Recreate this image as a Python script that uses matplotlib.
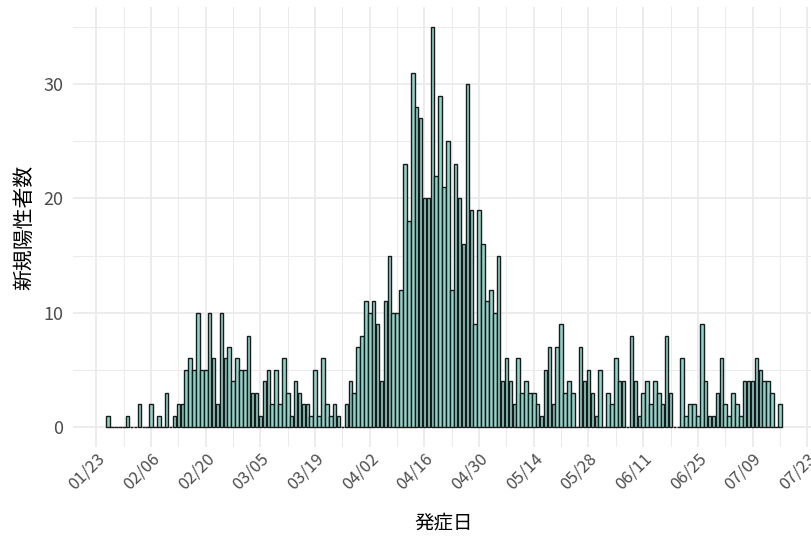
import matplotlib
matplotlib.use("Agg")
import matplotlib.pyplot as plt
import matplotlib.dates as mdates
import pandas as pd

plt.rcParams["font.family"] = ["Noto Sans CJK JP", "DejaVu Sans"]

# 発症日ごとの新規陽性者数 (2020-01-26 から 1 日ずつ)
AXIS_START = "2020-01-23"
DATA_START = "2020-01-26"
counts = [
    1, 0, 0, 0, 0, 1, 0, 0, 2, 0,          # 01/26 -
    0, 2, 0, 1, 0, 3, 0, 1, 2, 2,          # 02/05 -
    5, 6, 5, 10, 5, 5, 10, 6, 2, 10,       # 02/15 -
    6, 7, 4, 6, 5, 5, 8, 3, 3, 1,          # 02/25 -
    4, 5, 2, 5, 2, 6, 3, 1, 4, 3,          # 03/06 -
    2, 2, 1, 5, 1, 6, 2, 1, 2, 1,          # 03/16 -
    0, 2, 4, 3, 7, 8, 11, 10, 11, 9,       # 03/26 -
    4, 11, 15, 10, 10, 12, 23, 18, 31, 28,   # 04/05 -
    27, 20, 20, 35, 22, 29, 21, 25, 12, 23,  # 04/15 -
    20, 16, 30, 19, 9, 19, 16, 11, 12, 10,   # 04/25 -
    15, 4, 6, 4, 2, 6, 3, 4, 3, 3,         # 05/05 -
    2, 1, 5, 7, 2, 7, 9, 3, 4, 3,          # 05/15 -
    0, 7, 4, 5, 3, 1, 5, 0, 3, 2,          # 05/25 -
    6, 4, 4, 0, 8, 4, 1, 3, 4, 2,          # 06/04 -
    4, 3, 2, 8, 3, 0, 0, 6, 1, 2,          # 06/14 -
    2, 1, 9, 4, 1, 1, 3, 6, 2, 1,          # 06/24 -
    3, 2, 1, 4, 4, 4, 6, 5, 4, 4,          # 07/04 -
    3, 0, 2,                               # 07/14 - 07/16
]
x_label = "発症日"
y_label = "新規陽性者数"

BAR_FILL = "#8fd3c9"
BAR_EDGE = "#1a1a1a"
GRID = "#ebebeb"

dates = pd.date_range(DATA_START, periods=len(counts), freq="D")
start = pd.Timestamp(AXIS_START)

fig = plt.figure(figsize=(8.12, 5.39), dpi=100, facecolor="white")
ax = fig.add_axes([73 / 812, 92 / 539, 742 / 812, 440 / 539])

ax.bar(dates, counts, width=0.9, color=BAR_FILL, edgecolor=BAR_EDGE,
       linewidth=1.0, zorder=3)

ax.set_xlim(start - pd.Timedelta(days=6), start + pd.Timedelta(days=184))
ax.set_ylim(-1.75, 36.75)

major_ticks = pd.date_range(start, periods=14, freq="14D")
minor_ticks = pd.date_range(start + pd.Timedelta(days=7), periods=13, freq="14D")
ax.set_xticks(major_ticks)
ax.set_xticks(minor_ticks, minor=True)
ax.xaxis.set_major_formatter(mdates.DateFormatter("%m/%d"))
ax.set_yticks([0, 10, 20, 30])
ax.set_yticks([5, 15, 25, 35], minor=True)

ax.grid(which="major", color=GRID, linewidth=1.3, zorder=0)
ax.grid(which="minor", color=GRID, linewidth=0.7, zorder=0)
ax.set_axisbelow(True)

for s in ax.spines.values():
    s.set_visible(False)
ax.tick_params(which="both", length=0)
ax.tick_params(axis="y", labelsize=13, labelcolor="#4d4d4d", pad=7)
ax.tick_params(axis="x", labelsize=12, labelcolor="#4d4d4d", pad=2)
for lab in ax.get_xticklabels():
    lab.set_rotation(45)
    lab.set_ha("right")
    lab.set_va("top")
    lab.set_rotation_mode("anchor")

ax.set_xlabel(x_label, fontsize=14, labelpad=14)
ax.set_ylabel(y_label, fontsize=15, labelpad=6)

fig.savefig("out.png", dpi=100, facecolor="white")
